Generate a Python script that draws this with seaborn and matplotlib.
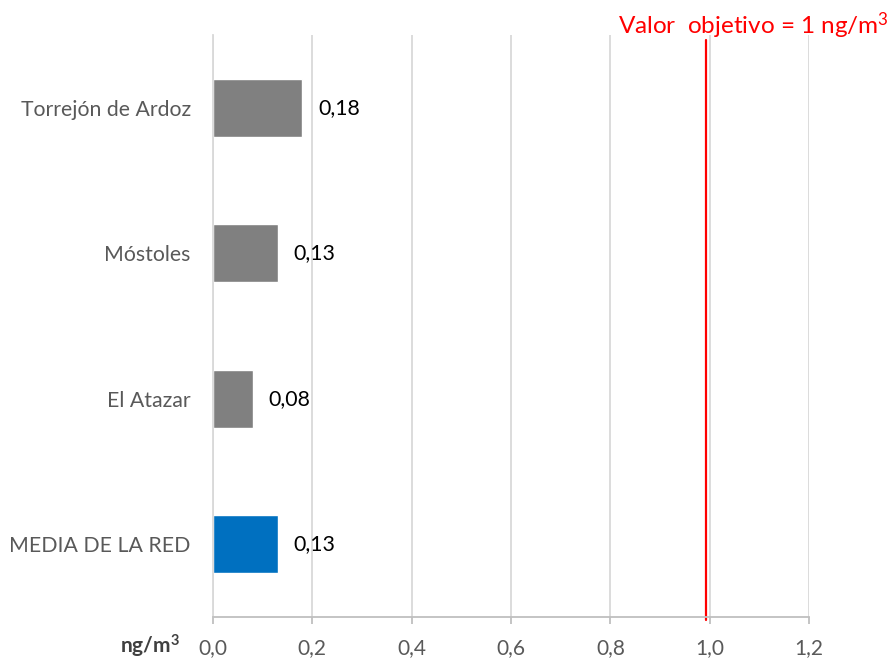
import matplotlib
matplotlib.use("Agg")
import matplotlib.pyplot as plt
import matplotlib.transforms as mtransforms
import seaborn as sns
import pandas as pd

categories = ["Torrejón de Ardoz", "Móstoles", "El Atazar", "MEDIA DE LA RED"]
values = [0.18, 0.13, 0.08, 0.13]
bar_colors = ["#808080", "#808080", "#808080", "#0070C0"]
value_labels = ["0,18", "0,13", "0,08", "0,13"]
xticks = [0.0, 0.2, 0.4, 0.6, 0.8, 1.0, 1.2]
xtick_labels = ["0,0", "0,2", "0,4", "0,6", "0,8", "1,0", "1,2"]
target_value = 0.992
target_label = r"Valor  objetivo = 1 ng/m$^{3}$"
unit_label = r"ng/m$^{\mathbf{3}}$"

sns.set_theme(style="white")
plt.rcParams['font.family'] = ['Lato', 'DejaVu Sans']
plt.rcParams['mathtext.fontset'] = 'custom'
plt.rcParams['mathtext.rm'] = 'Lato'
plt.rcParams['mathtext.it'] = 'Lato'
plt.rcParams['mathtext.bf'] = 'Lato:bold'
plt.rcParams['mathtext.default'] = 'regular'

df = pd.DataFrame({"cat": categories, "val": values})

fig = plt.figure(figsize=(8.91, 6.59), dpi=100)
ax = fig.add_axes([213/891, 1-617/659, (809-213)/891, (617-35)/659])

sns.barplot(data=df, y="cat", x="val", hue="cat", palette=bar_colors,
            order=categories, hue_order=categories, width=0.4, legend=False,
            ax=ax, orient="h", saturation=1)

ax.set_xlim(0, 1.2)
ax.set_ylim(3.5, -0.5)
ax.set_xticks(xticks)
ax.set_xticklabels(xtick_labels)
ax.set_xlabel("")
ax.set_ylabel("")
ax.set_axisbelow(True)
ax.grid(axis="x", color="#d9d9d9", linewidth=1.3)
ax.grid(axis="y", visible=False)
for s in ["top", "right"]:
    ax.spines[s].set_visible(False)
ax.spines["left"].set_color("#d9d9d9")
ax.spines["left"].set_linewidth(1.3)
ax.spines["bottom"].set_color("#bfbfbf")
ax.spines["bottom"].set_linewidth(1.3)
ax.tick_params(axis="x", which="major", bottom=True, length=5, width=1.3,
               color="#bfbfbf", labelsize=15, labelcolor="#595959", pad=22)
for lab in ax.get_xticklabels():
    lab.set_va("baseline")
ax.tick_params(axis="y", left=False, labelsize=15.3, labelcolor="#595959", pad=10)

for i, (v, lab) in enumerate(zip(values, value_labels)):
    ax.text(v + 0.032, i + 0.0, lab, va="center", ha="left", fontsize=15.3, color="black")

trans = mtransforms.blended_transform_factory(ax.transData, ax.transAxes)
ax.plot([target_value, target_value], [-0.005, 0.991], color="#ff0000",
        linewidth=1.6, transform=trans, clip_on=False)

fig.text(0.997, 1-34/659, target_label, ha="right", va="baseline",
         fontsize=17.5, color="#ff0000")

unit_trans = mtransforms.offset_copy(ax.transAxes, fig=fig, x=-33, y=-37, units="dots")
ax.text(0, 0, unit_label, transform=unit_trans, ha="right", va="baseline",
        fontsize=15, fontweight="bold", color="#404040")

fig.savefig("out.png", dpi=100)
